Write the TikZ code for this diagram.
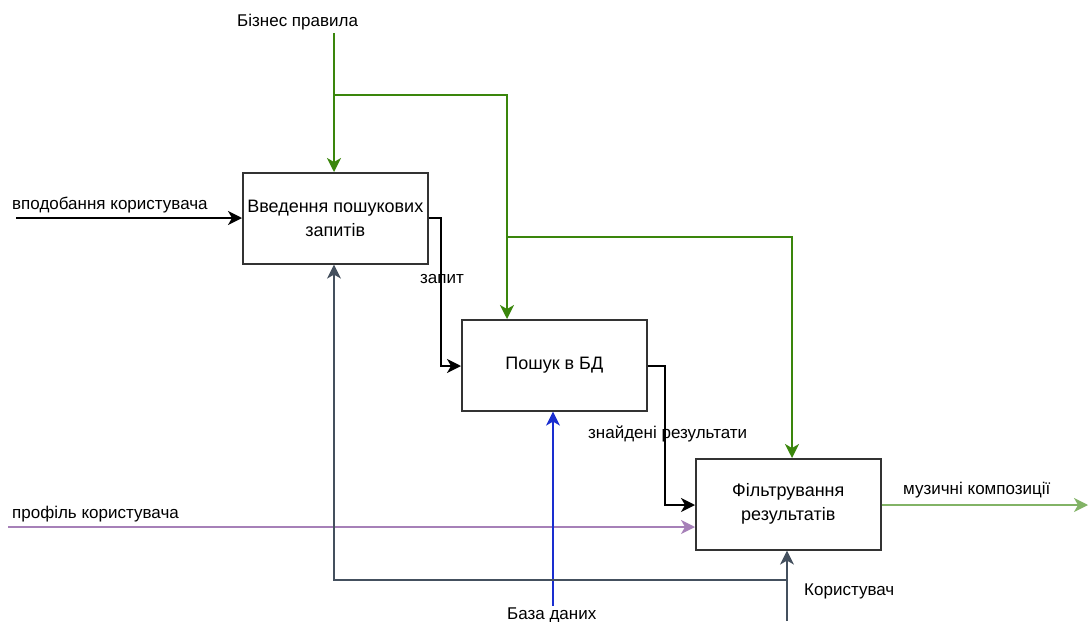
\documentclass[tikz,border=0pt]{standalone}
\usepackage{fontspec}
\setmainfont{Liberation Sans}
\usetikzlibrary{arrows.meta}
\definecolor{ctrlgreen}{HTML}{3A860C}
\definecolor{outgreen}{HTML}{82B366}
\definecolor{profpurple}{HTML}{A680B8}
\definecolor{mechslate}{HTML}{44505E}
\definecolor{dbblue}{HTML}{1A2ED0}
\begin{document}
\begin{tikzpicture}[x=1pt,y=-1pt,
  font=\fontsize{17}{20}\selectfont,
  proc/.style={draw=black!80,line width=1.6pt,minimum width=185pt,minimum height=91pt,
    inner sep=2pt,align=center,anchor=north west,font=\fontsize{18}{24}\selectfont},
  flow/.style={line width=1.5pt,-{Stealth[length=14pt,width=14pt,inset=4pt]}},
  lbl/.style={inner sep=0pt,anchor=base west}]
\useasboundingbox (0,0) rectangle (1092,621);

% activity boxes
\node[proc] (a1) at (242,172) {Введення пошукових\\запитів};
\node[proc] (a2) at (461,319) {Пошук в БД};
\node[proc] (a3) at (695,458) {Фільтрування\\результатів};

% free ends and bends of the arrows
\coordinate (inL) at (16,218);
\coordinate (prof) at (8,527);
\coordinate (out) at (1088,505);
\coordinate (ctrl) at (334,33);
\coordinate (db) at (553,606);
\coordinate (usr) at (787,621);
\coordinate (j1) at (334,95);
\coordinate (j2) at (507,237);
\coordinate (j3) at (787,580);
\coordinate (r1) at (441,218);
\coordinate (r2) at (441,366);
\coordinate (s1) at (665,366);
\coordinate (s2) at (665,505);
\coordinate (c1) at (507,95);
\coordinate (c2) at (792,237);
\coordinate (m1) at (334,580);

% inputs
\draw[flow,black] (inL) -- (inL -| a1.west);
\draw[flow,profpurple] (prof) -- (prof -| a3.west);
% outputs between steps
\draw[flow,black] (r1 -| a1.east) -- (r1) -- (r2) -- (r2 -| a2.west);
\draw[flow,black] (s1 -| a2.east) -- (s1) -- (s2) -- (s2 -| a3.west);
% final output
\draw[flow,outgreen] (out -| a3.east) -- (out);

% controls
\draw[flow,ctrlgreen] (ctrl) -- (ctrl |- a1.north);
\draw[flow,ctrlgreen] (j1) -- (c1) -- (c1 |- a2.north);
\draw[flow,ctrlgreen] (j2) -- (c2) -- (c2 |- a3.north);

% mechanisms
\draw[flow,dbblue] (db) -- (db |- a2.south);
\draw[flow,mechslate] (usr) -- (usr |- a3.south);
\draw[flow,mechslate] (j3) -- (m1) -- (m1 |- a1.south);

% labels
\node[lbl] (t1) at (12,209) {вподобання користувача};
\node[lbl] (t2) at (12,518) {профіль користувача};
\node[lbl] (t3) at (237,26) {Бізнес правила};
\node[lbl] (t4) at (420,283) {запит};
\node[lbl] (t5) at (588,438) {знайдені результати};
\node[lbl] (t6) at (903,494) {музичні композиції};
\node[lbl] (t7) at (804,595) {Користувач};
\node[lbl] (t8) at (507,619) {База даних};
\end{tikzpicture}
\end{document}
